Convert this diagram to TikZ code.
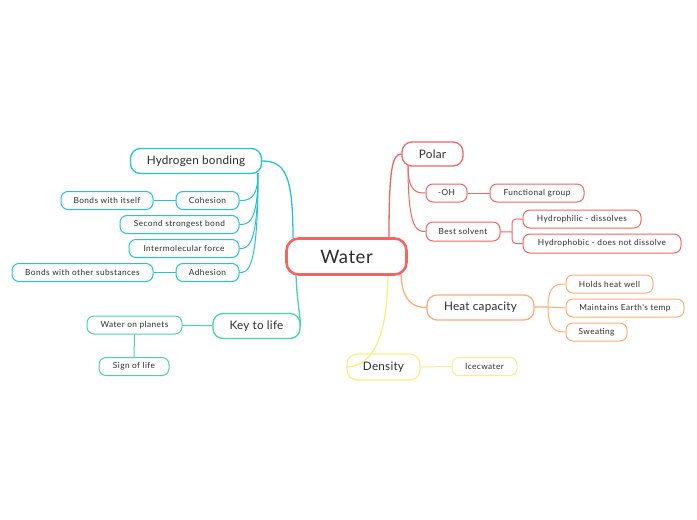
\documentclass[tikz,border=0pt]{standalone}
\usepackage{fontspec}
\setmainfont{Lato}
\newfontfamily\smallf[LetterSpace=5]{Lato}
\newfontfamily\midf[LetterSpace=2]{Lato}
\newfontfamily\bigf[LetterSpace=3]{Lato}
\definecolor{cy}{RGB}{38,196,206}
\definecolor{gr}{RGB}{72,212,165}
\definecolor{rd}{RGB}{244,100,96}
\definecolor{og}{RGB}{255,172,122}
\definecolor{yl}{RGB}{250,238,135}
\definecolor{tx}{RGB}{45,45,45}
\begin{document}
\begin{tikzpicture}[x=1pt,y=-1pt,
  box/.style={draw, rounded corners=7, line width=1pt, fill=white, text=tx, inner sep=0pt, minimum height=18pt, font=\smallf\fontsize{8.3}{9}\selectfont},
  mbox/.style={draw, rounded corners=10, line width=1.3pt, fill=white, text=tx, inner sep=0pt, minimum height=25pt, font=\midf\fontsize{11.7}{13}\selectfont},
  ln/.style={line width=1.3pt},
  sl/.style={line width=1pt}]
\useasboundingbox (0,0) rectangle (697,520);
\coordinate (wHB) at (293,238);
\coordinate (wKL) at (296,275);
\coordinate (wP) at (389,238);
\coordinate (wHC) at (401,274);
\coordinate (wD) at (388,275);
\coordinate (hb) at (258,173);
\coordinate (pl) at (408,166);
\coordinate (bs) at (512,232);
\coordinate (hc) at (548,307);

\node[mbox, draw=cy, minimum width=131pt] (HB) at (196,161) {Hydrogen bonding};
\node[box, draw=cy, minimum width=63pt] (CO) at (207.5,200.5) {Cohesion};
\node[box, draw=cy, minimum width=92pt] (BI) at (107,200.5) {Bonds with itself};
\node[box, draw=cy, minimum width=119pt] (SS) at (179.5,224.5) {Second strongest bond};
\node[box, draw=cy, minimum width=110pt] (IF) at (184,248.5) {Intermolecular force};
\node[box, draw=cy, minimum width=63pt] (AD) at (207.5,272.5) {Adhesion};
\node[box, draw=cy, minimum width=141pt] (BO) at (82.5,272.5) {Bonds with other substances};

\node[mbox, draw=gr, minimum width=87pt] (KL) at (256.5,326) {Key to life};
\node[box, draw=gr, minimum width=95pt] (WP) at (134.5,325) {Water on planets};
\node[box, draw=gr, minimum width=70pt] (SL) at (134,366.5) {Sign of life};

\node[mbox, draw=rd, minimum width=61pt, minimum height=24pt] (PO) at (432.5,154) {Polar};
\node[box, draw=rd, minimum width=41pt] (OH) at (446.5,193) {-OH};
\node[box, draw=rd, minimum width=94pt] (FG) at (537,193) {Functional group};
\node[box, draw=rd, minimum width=74pt, minimum height=19pt] (BS) at (463,231.5) {Best solvent};
\node[box, draw=rd, minimum width=118pt] (HP) at (582,219) {Hydrophilic - dissolves};
\node[box, draw=rd, minimum width=158pt, minimum height=19pt] (HO) at (602,243.5) {Hydrophobic - does not dissolve};

\node[mbox, draw=og, minimum width=107pt] (HC) at (480.5,307.5) {Heat capacity};
\node[box, draw=og, minimum width=87pt] (HW) at (609.5,284) {Holds heat well};
\node[box, draw=og, minimum width=118pt] (ME) at (625,308) {Maintains Earth's temp};
\node[box, draw=og, minimum width=61pt] (SW) at (596.5,332) {Sweating};

\node[mbox, draw=yl, minimum width=73pt, minimum height=26pt] (DE) at (383.5,367) {Density};
\node[box, draw=yl, minimum width=65pt] (IC) at (484.5,366.5) {Icecwater};

% connectors
\draw[ln, cy] (wHB) .. controls (293,175) and (285,161) .. (HB.east);
\draw[ln, gr] (wKL) .. controls (297,300) and (300,315) .. (KL.east);
\foreach \n in {CO,SS,IF,AD}{
  \draw[sl, cy] (hb) .. controls (hb |- \n.east) and ([xshift=8]\n.east) .. (\n.east);
}
\draw[sl, cy] (CO) -- (BI);
\draw[sl, cy] (AD) -- (BO);
\draw[sl, gr] (KL) -- (WP);
\draw[sl, gr] (WP) -- (SL);

\draw[ln, rd] (wP) .. controls (389,170) and (392,154) .. (PO.west);
\draw[sl, rd] (pl) .. controls (pl |- OH.west) and ([xshift=-8]OH.west) .. (OH.west);
\draw[sl, rd] (pl) .. controls (pl |- BS.west) and ([xshift=-8]BS.west) .. (BS.west);
\draw[sl, rd] (OH) -- (FG);
\draw[sl, rd] (BS) -- (bs);
\draw[sl, rd, rounded corners=4] (bs) |- (HP.west);
\draw[sl, rd, rounded corners=4] (bs) |- (HO.west);

\draw[ln, og] (wHC) .. controls (402,300) and (412,307.5) .. (HC.west);
\draw[ln, og] (HC) -- (hc);
\draw[sl, og] (hc) .. controls (hc |- HW.west) and ([xshift=-8]HW.west) .. (HW.west);
\draw[sl, og] (hc) -- (ME.west);
\draw[sl, og] (hc) .. controls (hc |- SW.west) and ([xshift=-8]SW.west) .. (SW.west);

\draw[ln, yl] (wD) .. controls (387,340) and (372,366) .. (DE.west);
\draw[sl, yl] (DE) -- (IC);

\node[draw=rd, line width=2.6pt, rounded corners=12, fill=white, text=tx, minimum width=120pt, minimum height=36pt, inner sep=0pt, font=\bigf\fontsize{18.5}{21}\selectfont] (W) at (346.5,256.5) {Water};
\end{tikzpicture}
\end{document}
